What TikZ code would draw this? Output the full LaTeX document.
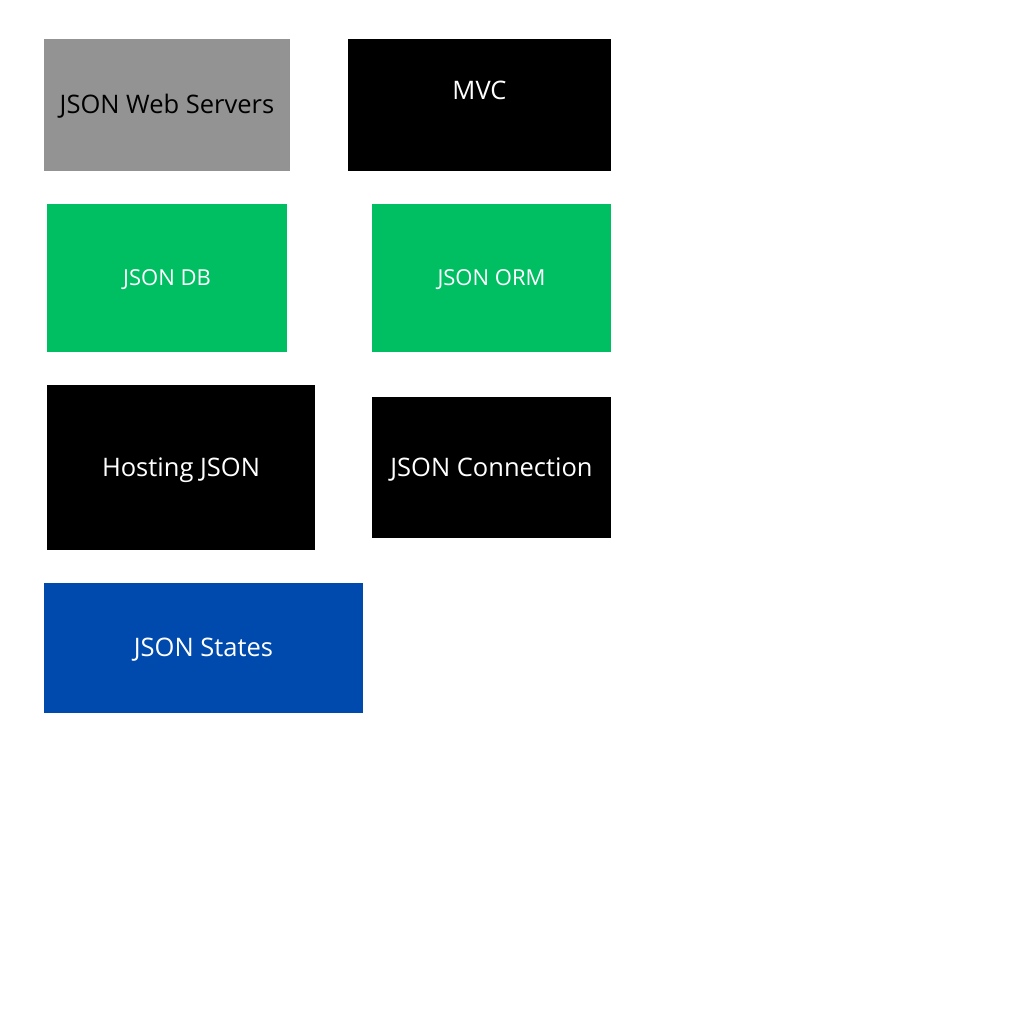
\documentclass[tikz,border=0pt]{standalone}
\usepackage{fontspec}
\setmainfont{Open Sans}
\definecolor{gbox}{HTML}{939393}
\definecolor{grn}{HTML}{00BF63}
\definecolor{blu}{HTML}{004AAD}
\begin{document}
\begin{tikzpicture}[x=1pt,y=-1pt,
  box/.style={draw=none,inner sep=0pt,outer sep=0pt,text=white,text height=17pt,text depth=0pt},
  big/.style={font=\fontsize{25.5}{30}\selectfont},
  small/.style={font=\fontsize{22}{26}\selectfont,text height=14.5pt}]
\useasboundingbox[fill=white] (0,0) rectangle (1024,1024);
\node[box,big,fill=gbox,text=black,minimum width=246pt,minimum height=132pt] (web) at (167,105) {JSON Web Servers};
\node[box,fill=black,minimum width=263pt,minimum height=132pt,
  label={[big,text=white,yshift=15pt]center:MVC}] (mvc) at (479.5,105) {};
\node[box,small,fill=grn,minimum width=240pt,minimum height=148pt] (db) at (167,278) {JSON DB};
\node[box,small,fill=grn,minimum width=239pt,minimum height=148pt] (orm) at (491.5,278) {JSON ORM};
\node[box,big,fill=black,minimum width=268pt,minimum height=165pt] (host) at (181,467.5) {Hosting JSON};
\node[box,big,fill=black,minimum width=239pt,minimum height=141pt] (conn) at (491.5,467.5) {JSON Connection};
\node[box,big,fill=blu,minimum width=319pt,minimum height=130pt] (states) at (203.5,648) {JSON States};
\end{tikzpicture}
\end{document}
